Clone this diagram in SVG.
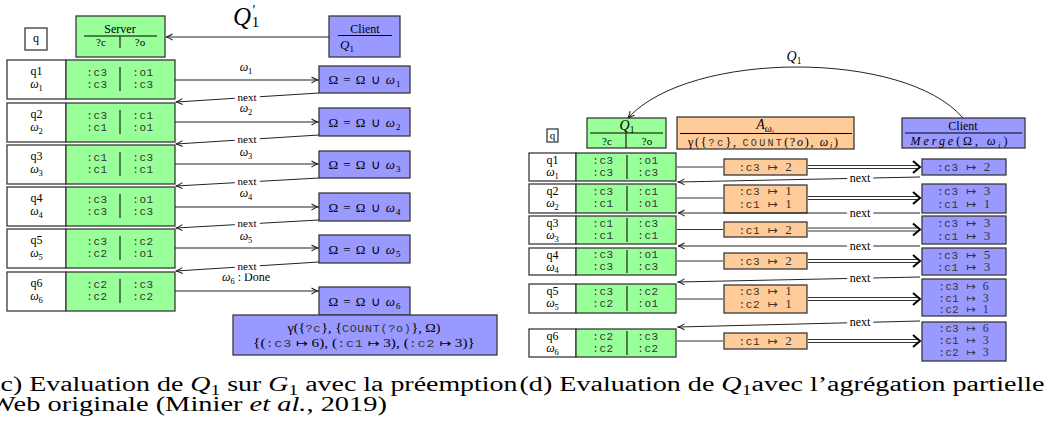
<svg xmlns="http://www.w3.org/2000/svg" width="1048" height="430" viewBox="0 0 1048 430">
<defs>
<style>
.bx{stroke:#3a3a3a;stroke-width:1.3}
.gr{fill:#99ff99}.bl{fill:#9999ff}.or{fill:#ffcc99}.wh{fill:#fff}
.t{font-family:"Liberation Serif",serif;fill:#000}
.m{font-family:"Liberation Mono",monospace;fill:#333;letter-spacing:0.6px}
.ar{font-family:"DejaVu Sans",sans-serif}
.n{font-family:"Liberation Serif",serif}
.f10{font-size:10.5px}.f11{font-size:11px}.f12{font-size:12px}.f13{font-size:13px}
.ln{stroke:#222;stroke-width:1;fill:none}
.dv{stroke:#222;stroke-width:1.2}
.nx{paint-order:stroke;stroke:#fff;stroke-width:7px;stroke-linejoin:round}
.it{font-style:italic}
</style>
<marker id="ah" viewBox="0 0 8 8" refX="7.5" refY="4" markerWidth="8" markerHeight="8" markerUnits="userSpaceOnUse" orient="auto">
<path d="M1 1 Q4.5 3.2 7.5 4 Q4.5 4.8 1 7" fill="none" stroke="#222" stroke-width="1.1"/>
</marker>
</defs>

<!-- LEFT PANEL -->
<g id="q-left"><rect class="bx wh" x="25" y="28" width="22" height="22"/><text class="t f12" x="36" y="41.5" text-anchor="middle">q</text></g>
<g id="server"><rect class="bx gr" x="76" y="16" width="89" height="41"/>
<text class="t f12" x="120" y="33" text-anchor="middle">Server</text>
<line x1="84" y1="36" x2="157" y2="36" stroke="#000" stroke-width="1"/>
<line class="dv" x1="120" y1="36" x2="120" y2="48"/>
<text class="t f11" x="101" y="46" text-anchor="middle">?c</text>
<text class="t f11" x="140" y="46" text-anchor="middle">?o</text></g>
<g id="client-left"><rect class="bx bl" x="329" y="16" width="71" height="41"/>
<text class="t f12" x="365" y="32.5" text-anchor="middle">Client</text>
<line x1="338" y1="35.5" x2="392" y2="35.5" stroke="#000" stroke-width="1"/>
<text class="t f13" x="340" y="49"><tspan class="it">Q</tspan><tspan font-size="9" dy="2.5">1</tspan></text></g>

<g id="row-l1"><rect class="bx wh" x="7" y="60" width="59" height="39"/><rect class="bx gr" x="66" y="60" width="109" height="39"/>
<text class="t f12" x="36.5" y="75" text-anchor="middle">q1</text>
<text class="t f12" x="36.5" y="88" text-anchor="middle"><tspan class="it">ω</tspan><tspan font-size="8.5" dy="2.5">1</tspan></text>
<line class="dv" x1="120" y1="67" x2="120" y2="91"/>
<text class="m f11" x="97" y="76" text-anchor="middle">:c3</text><text class="m f11" x="143" y="76" text-anchor="middle">:o1</text>
<text class="m f11" x="97" y="88" text-anchor="middle">:c3</text><text class="m f11" x="143" y="88" text-anchor="middle">:c3</text></g>

<g id="row-l2"><rect class="bx wh" x="7" y="103" width="59" height="39"/><rect class="bx gr" x="66" y="103" width="109" height="39"/>
<text class="t f12" x="36.5" y="118" text-anchor="middle">q2</text>
<text class="t f12" x="36.5" y="131" text-anchor="middle"><tspan class="it">ω</tspan><tspan font-size="8.5" dy="2.5">2</tspan></text>
<line class="dv" x1="120" y1="110" x2="120" y2="134"/>
<text class="m f11" x="97" y="119" text-anchor="middle">:c3</text><text class="m f11" x="143" y="119" text-anchor="middle">:c1</text>
<text class="m f11" x="97" y="131" text-anchor="middle">:c1</text><text class="m f11" x="143" y="131" text-anchor="middle">:o1</text></g>

<g id="row-l3"><rect class="bx wh" x="7" y="145" width="59" height="39"/><rect class="bx gr" x="66" y="145" width="109" height="39"/>
<text class="t f12" x="36.5" y="160" text-anchor="middle">q3</text>
<text class="t f12" x="36.5" y="173" text-anchor="middle"><tspan class="it">ω</tspan><tspan font-size="8.5" dy="2.5">3</tspan></text>
<line class="dv" x1="120" y1="152" x2="120" y2="176"/>
<text class="m f11" x="97" y="161" text-anchor="middle">:c1</text><text class="m f11" x="143" y="161" text-anchor="middle">:c3</text>
<text class="m f11" x="97" y="173" text-anchor="middle">:c1</text><text class="m f11" x="143" y="173" text-anchor="middle">:c1</text></g>

<g id="row-l4"><rect class="bx wh" x="7" y="187" width="59" height="39"/><rect class="bx gr" x="66" y="187" width="109" height="39"/>
<text class="t f12" x="36.5" y="202" text-anchor="middle">q4</text>
<text class="t f12" x="36.5" y="215" text-anchor="middle"><tspan class="it">ω</tspan><tspan font-size="8.5" dy="2.5">4</tspan></text>
<line class="dv" x1="120" y1="194" x2="120" y2="218"/>
<text class="m f11" x="97" y="203" text-anchor="middle">:c3</text><text class="m f11" x="143" y="203" text-anchor="middle">:o1</text>
<text class="m f11" x="97" y="215" text-anchor="middle">:c3</text><text class="m f11" x="143" y="215" text-anchor="middle">:c3</text></g>

<g id="row-l5"><rect class="bx wh" x="7" y="229" width="59" height="39"/><rect class="bx gr" x="66" y="229" width="109" height="39"/>
<text class="t f12" x="36.5" y="244" text-anchor="middle">q5</text>
<text class="t f12" x="36.5" y="257" text-anchor="middle"><tspan class="it">ω</tspan><tspan font-size="8.5" dy="2.5">5</tspan></text>
<line class="dv" x1="120" y1="236" x2="120" y2="260"/>
<text class="m f11" x="97" y="245" text-anchor="middle">:c3</text><text class="m f11" x="143" y="245" text-anchor="middle">:c2</text>
<text class="m f11" x="97" y="257" text-anchor="middle">:c2</text><text class="m f11" x="143" y="257" text-anchor="middle">:o1</text></g>

<g id="row-l6"><rect class="bx wh" x="7" y="272" width="59" height="39"/><rect class="bx gr" x="66" y="272" width="109" height="39"/>
<text class="t f12" x="36.5" y="287" text-anchor="middle">q6</text>
<text class="t f12" x="36.5" y="300" text-anchor="middle"><tspan class="it">ω</tspan><tspan font-size="8.5" dy="2.5">6</tspan></text>
<line class="dv" x1="120" y1="279" x2="120" y2="303"/>
<text class="m f11" x="97" y="288" text-anchor="middle">:c2</text><text class="m f11" x="143" y="288" text-anchor="middle">:c3</text>
<text class="m f11" x="97" y="300" text-anchor="middle">:c2</text><text class="m f11" x="143" y="300" text-anchor="middle">:c2</text></g>

<g id="omega-1"><rect class="bx bl" x="319" y="66" width="91" height="27"/><text class="t f13" x="364.5" y="84" text-anchor="middle" textLength="72" lengthAdjust="spacing">Ω = Ω ∪ <tspan class="it">ω</tspan><tspan font-size="9" dy="3">1</tspan></text></g>
<g id="omega-2"><rect class="bx bl" x="319" y="108" width="91" height="28"/><text class="t f13" x="364.5" y="126.5" text-anchor="middle" textLength="72" lengthAdjust="spacing">Ω = Ω ∪ <tspan class="it">ω</tspan><tspan font-size="9" dy="3">2</tspan></text></g>
<g id="omega-3"><rect class="bx bl" x="319" y="151" width="91" height="27"/><text class="t f13" x="364.5" y="169" text-anchor="middle" textLength="72" lengthAdjust="spacing">Ω = Ω ∪ <tspan class="it">ω</tspan><tspan font-size="9" dy="3">3</tspan></text></g>
<g id="omega-4"><rect class="bx bl" x="319" y="193" width="91" height="28"/><text class="t f13" x="364.5" y="211.5" text-anchor="middle" textLength="72" lengthAdjust="spacing">Ω = Ω ∪ <tspan class="it">ω</tspan><tspan font-size="9" dy="3">4</tspan></text></g>
<g id="omega-5"><rect class="bx bl" x="319" y="235" width="91" height="28"/><text class="t f13" x="364.5" y="253.5" text-anchor="middle" textLength="72" lengthAdjust="spacing">Ω = Ω ∪ <tspan class="it">ω</tspan><tspan font-size="9" dy="3">5</tspan></text></g>
<g id="omega-6"><rect class="bx bl" x="319" y="287" width="91" height="28"/><text class="t f13" x="364.5" y="305.5" text-anchor="middle" textLength="72" lengthAdjust="spacing">Ω = Ω ∪ <tspan class="it">ω</tspan><tspan font-size="9" dy="3">6</tspan></text></g>

<g id="result-left"><rect class="bx bl" x="233" y="315" width="264" height="40"/>
<text class="t f12" x="364" y="332" text-anchor="middle" textLength="153" lengthAdjust="spacingAndGlyphs">γ({<tspan class="m" font-size="10.5">?c</tspan>}, {<tspan class="m" font-size="10">COUNT(?o)</tspan>}, Ω)</text>
<text class="t f12" x="364" y="347" text-anchor="middle" textLength="222" lengthAdjust="spacingAndGlyphs">{(<tspan class="m" font-size="10.5">:c3</tspan> <tspan class="ar" font-size="11">↦</tspan> 6), (<tspan class="m" font-size="10.5">:c1</tspan> <tspan class="ar" font-size="11">↦</tspan> 3), (<tspan class="m" font-size="10.5">:c2</tspan> <tspan class="ar" font-size="11">↦</tspan> 3)}</text></g>

<g id="connectors-left">
<line class="ln" x1="329" y1="37" x2="166" y2="37" marker-end="url(#ah)"/>
<text class="t" x="233" y="25" font-size="25"><tspan class="it">Q</tspan><tspan font-size="14" dx="1.5" dy="-10">′</tspan><tspan font-size="15" dx="-4" dy="12">1</tspan></text>
<line class="ln" x1="175" y1="80" x2="318" y2="80" marker-end="url(#ah)"/>
<line class="ln" x1="175" y1="122" x2="318" y2="122" marker-end="url(#ah)"/>
<line class="ln" x1="175" y1="164" x2="318" y2="164" marker-end="url(#ah)"/>
<line class="ln" x1="175" y1="207" x2="318" y2="207" marker-end="url(#ah)"/>
<line class="ln" x1="175" y1="248" x2="318" y2="248" marker-end="url(#ah)"/>
<line class="ln" x1="175" y1="291" x2="318" y2="291" marker-end="url(#ah)"/>
<text class="t f12" x="246" y="71" text-anchor="middle"><tspan class="it">ω</tspan><tspan font-size="8.5" dy="2.5">1</tspan></text>
<text class="t f12" x="246" y="112" text-anchor="middle"><tspan class="it">ω</tspan><tspan font-size="8.5" dy="2.5">2</tspan></text>
<text class="t f12" x="246" y="156" text-anchor="middle"><tspan class="it">ω</tspan><tspan font-size="8.5" dy="2.5">3</tspan></text>
<text class="t f12" x="246" y="197" text-anchor="middle"><tspan class="it">ω</tspan><tspan font-size="8.5" dy="2.5">4</tspan></text>
<text class="t f12" x="246" y="240" text-anchor="middle"><tspan class="it">ω</tspan><tspan font-size="8.5" dy="2.5">5</tspan></text>
<text class="t f12" x="246" y="281" text-anchor="middle"><tspan class="it">ω</tspan><tspan font-size="8.5" dy="2.5">6</tspan><tspan dy="-2.5"> : Done</tspan></text>
<line class="ln" x1="319" y1="93" x2="176" y2="102" marker-end="url(#ah)"/>
<line class="ln" x1="319" y1="135" x2="176" y2="144" marker-end="url(#ah)"/>
<line class="ln" x1="319" y1="178" x2="176" y2="186" marker-end="url(#ah)"/>
<line class="ln" x1="319" y1="220" x2="176" y2="228" marker-end="url(#ah)"/>
<line class="ln" x1="319" y1="262" x2="176" y2="271" marker-end="url(#ah)"/>
<text class="t f11 nx" x="247" y="100.5" text-anchor="middle">next</text>
<text class="t f11 nx" x="247" y="142.5" text-anchor="middle">next</text>
<text class="t f11 nx" x="247" y="185" text-anchor="middle">next</text>
<text class="t f11 nx" x="247" y="227" text-anchor="middle">next</text>
<text class="t f11 nx" x="247" y="269.5" text-anchor="middle">next</text>
</g>

<!-- RIGHT PANEL -->
<g id="q-right"><rect class="bx wh" x="547" y="129" width="11" height="13" stroke-width="1"/><text class="t f11" x="552.5" y="138.5" text-anchor="middle">q</text></g>
<g id="q1-head"><rect class="bx gr" x="587" y="118" width="79" height="30"/>
<text class="t" font-size="14" x="627" y="130" text-anchor="middle"><tspan class="it">Q</tspan><tspan font-size="9.5" dy="2.5">1</tspan></text>
<line x1="590" y1="133" x2="663" y2="133" stroke="#000" stroke-width="1"/>
<line class="dv" x1="626" y1="133" x2="626" y2="148"/>
<text class="t f11" x="607" y="144.5" text-anchor="middle">?c</text>
<text class="t f11" x="647" y="144.5" text-anchor="middle">?o</text></g>
<g id="a-head"><rect class="bx or" x="677" y="117" width="177" height="32"/>
<text class="t" font-size="14" x="765" y="129" text-anchor="middle"><tspan class="it">A</tspan><tspan class="it" font-size="10" dy="3">ω</tspan><tspan class="it" font-size="7" dy="2">i</tspan></text>
<line x1="680" y1="133.5" x2="852" y2="133.5" stroke="#000" stroke-width="1"/>
<text class="t f12" x="763" y="145.5" text-anchor="middle" textLength="150" lengthAdjust="spacing">γ({<tspan class="m" font-size="10.5">?c</tspan>}, <tspan class="m" font-size="10">COUNT</tspan>(?<tspan class="it">o</tspan>), <tspan class="it">ω</tspan><tspan class="it" font-size="8" dy="2.5">i</tspan><tspan dy="-2.5">)</tspan></text></g>
<g id="client-right"><rect class="bx bl" x="902" y="118" width="123" height="30"/>
<text class="t f12" x="963" y="129.5" text-anchor="middle">Client</text>
<line x1="905" y1="133" x2="1022" y2="133" stroke="#000" stroke-width="1"/>
<text class="t f12" x="959" y="145" text-anchor="middle" textLength="97" lengthAdjust="spacing"><tspan class="it">Merge</tspan>(Ω, <tspan class="it">ω</tspan><tspan class="it" font-size="8" dy="2.5">i</tspan><tspan dy="-2.5">)</tspan></text></g>

<g id="row-r1"><rect class="bx wh" x="529" y="153" width="47" height="28"/><rect class="bx gr" x="576" y="153" width="100" height="28"/>
<text class="t f12" x="552.5" y="164" text-anchor="middle">q1</text>
<text class="t f12" x="552.5" y="176" text-anchor="middle"><tspan class="it">ω</tspan><tspan font-size="8.5" dy="2.5">1</tspan></text>
<line class="dv" x1="627" y1="155" x2="627" y2="179"/>
<text class="m f11" x="603" y="163.5" text-anchor="middle">:c3</text><text class="m f11" x="648" y="163.5" text-anchor="middle">:o1</text>
<text class="m f11" x="603" y="175.5" text-anchor="middle">:c3</text><text class="m f11" x="648" y="175.5" text-anchor="middle">:c3</text></g>
<g id="row-r2"><rect class="bx wh" x="529" y="184" width="47" height="29"/><rect class="bx gr" x="576" y="184" width="100" height="29"/>
<text class="t f12" x="552.5" y="195" text-anchor="middle">q2</text>
<text class="t f12" x="552.5" y="207" text-anchor="middle"><tspan class="it">ω</tspan><tspan font-size="8.5" dy="2.5">2</tspan></text>
<line class="dv" x1="627" y1="186" x2="627" y2="211"/>
<text class="m f11" x="603" y="194.5" text-anchor="middle">:c3</text><text class="m f11" x="648" y="194.5" text-anchor="middle">:c1</text>
<text class="m f11" x="603" y="206.5" text-anchor="middle">:c1</text><text class="m f11" x="648" y="206.5" text-anchor="middle">:o1</text></g>
<g id="row-r3"><rect class="bx wh" x="529" y="216" width="47" height="28"/><rect class="bx gr" x="576" y="216" width="100" height="28"/>
<text class="t f12" x="552.5" y="227" text-anchor="middle">q3</text>
<text class="t f12" x="552.5" y="239" text-anchor="middle"><tspan class="it">ω</tspan><tspan font-size="8.5" dy="2.5">3</tspan></text>
<line class="dv" x1="627" y1="218" x2="627" y2="242"/>
<text class="m f11" x="603" y="226.5" text-anchor="middle">:c1</text><text class="m f11" x="648" y="226.5" text-anchor="middle">:c3</text>
<text class="m f11" x="603" y="238.5" text-anchor="middle">:c1</text><text class="m f11" x="648" y="238.5" text-anchor="middle">:c1</text></g>
<g id="row-r4"><rect class="bx wh" x="529" y="248" width="47" height="27"/><rect class="bx gr" x="576" y="248" width="100" height="27"/>
<text class="t f12" x="552.5" y="258.5" text-anchor="middle">q4</text>
<text class="t f12" x="552.5" y="270.5" text-anchor="middle"><tspan class="it">ω</tspan><tspan font-size="8.5" dy="2.5">4</tspan></text>
<line class="dv" x1="627" y1="250" x2="627" y2="273"/>
<text class="m f11" x="603" y="258" text-anchor="middle">:c3</text><text class="m f11" x="648" y="258" text-anchor="middle">:o1</text>
<text class="m f11" x="603" y="270" text-anchor="middle">:c3</text><text class="m f11" x="648" y="270" text-anchor="middle">:c3</text></g>
<g id="row-r5"><rect class="bx wh" x="529" y="284" width="47" height="29"/><rect class="bx gr" x="576" y="284" width="100" height="29"/>
<text class="t f12" x="552.5" y="295" text-anchor="middle">q5</text>
<text class="t f12" x="552.5" y="307" text-anchor="middle"><tspan class="it">ω</tspan><tspan font-size="8.5" dy="2.5">5</tspan></text>
<line class="dv" x1="627" y1="286" x2="627" y2="311"/>
<text class="m f11" x="603" y="294.5" text-anchor="middle">:c3</text><text class="m f11" x="648" y="294.5" text-anchor="middle">:c2</text>
<text class="m f11" x="603" y="306.5" text-anchor="middle">:c2</text><text class="m f11" x="648" y="306.5" text-anchor="middle">:o1</text></g>
<g id="row-r6"><rect class="bx wh" x="529" y="329" width="47" height="28"/><rect class="bx gr" x="576" y="329" width="100" height="28"/>
<text class="t f12" x="552.5" y="340" text-anchor="middle">q6</text>
<text class="t f12" x="552.5" y="352" text-anchor="middle"><tspan class="it">ω</tspan><tspan font-size="8.5" dy="2.5">6</tspan></text>
<line class="dv" x1="627" y1="331" x2="627" y2="355"/>
<text class="m f11" x="603" y="339.5" text-anchor="middle">:c2</text><text class="m f11" x="648" y="339.5" text-anchor="middle">:c3</text>
<text class="m f11" x="603" y="351.5" text-anchor="middle">:c2</text><text class="m f11" x="648" y="351.5" text-anchor="middle">:c2</text></g>

<g id="agg-1"><rect class="bx or" x="724" y="159" width="83" height="16"/>
<text class="m f11" x="765.5" y="171" text-anchor="middle">:c3 <tspan class="ar" font-size="12">↦</tspan> <tspan class="n" font-size="13">2</tspan></text></g>
<g id="agg-2"><rect class="bx or" x="724" y="185" width="83" height="28"/>
<text class="m f11" x="765.5" y="195" text-anchor="middle">:c3 <tspan class="ar" font-size="12">↦</tspan> <tspan class="n" font-size="13">1</tspan></text>
<text class="m f11" x="765.5" y="207.5" text-anchor="middle">:c1 <tspan class="ar" font-size="12">↦</tspan> <tspan class="n" font-size="13">1</tspan></text></g>
<g id="agg-3"><rect class="bx or" x="724" y="222" width="83" height="15"/>
<text class="m f11" x="765.5" y="233.5" text-anchor="middle">:c1 <tspan class="ar" font-size="12">↦</tspan> <tspan class="n" font-size="13">2</tspan></text></g>
<g id="agg-4"><rect class="bx or" x="724" y="253" width="83" height="16"/>
<text class="m f11" x="765.5" y="265" text-anchor="middle">:c3 <tspan class="ar" font-size="12">↦</tspan> <tspan class="n" font-size="13">2</tspan></text></g>
<g id="agg-5"><rect class="bx or" x="724" y="285" width="83" height="28"/>
<text class="m f11" x="765.5" y="295" text-anchor="middle">:c3 <tspan class="ar" font-size="12">↦</tspan> <tspan class="n" font-size="13">1</tspan></text>
<text class="m f11" x="765.5" y="307.5" text-anchor="middle">:c2 <tspan class="ar" font-size="12">↦</tspan> <tspan class="n" font-size="13">1</tspan></text></g>
<g id="agg-6"><rect class="bx or" x="724" y="333" width="83" height="16"/>
<text class="m f11" x="765.5" y="345" text-anchor="middle">:c1 <tspan class="ar" font-size="12">↦</tspan> <tspan class="n" font-size="13">2</tspan></text></g>

<g id="merge-1"><rect class="bx bl" x="922" y="159" width="84" height="16"/>
<text class="m f11" x="964" y="171" text-anchor="middle">:c3 <tspan class="ar" font-size="12">↦</tspan> <tspan class="n" font-size="13">2</tspan></text></g>
<g id="merge-2"><rect class="bx bl" x="922" y="184" width="84" height="29"/>
<text class="m f11" x="964" y="195" text-anchor="middle">:c3 <tspan class="ar" font-size="12">↦</tspan> <tspan class="n" font-size="13">3</tspan></text>
<text class="m f11" x="964" y="207.5" text-anchor="middle">:c1 <tspan class="ar" font-size="12">↦</tspan> <tspan class="n" font-size="13">1</tspan></text></g>
<g id="merge-3"><rect class="bx bl" x="922" y="216" width="84" height="28"/>
<text class="m f11" x="964" y="227" text-anchor="middle">:c3 <tspan class="ar" font-size="12">↦</tspan> <tspan class="n" font-size="13">3</tspan></text>
<text class="m f11" x="964" y="239.5" text-anchor="middle">:c1 <tspan class="ar" font-size="12">↦</tspan> <tspan class="n" font-size="13">3</tspan></text></g>
<g id="merge-4"><rect class="bx bl" x="922" y="248" width="84" height="27"/>
<text class="m f11" x="964" y="259" text-anchor="middle">:c3 <tspan class="ar" font-size="12">↦</tspan> <tspan class="n" font-size="13">5</tspan></text>
<text class="m f11" x="964" y="271" text-anchor="middle">:c1 <tspan class="ar" font-size="12">↦</tspan> <tspan class="n" font-size="13">3</tspan></text></g>
<g id="merge-5"><rect class="bx bl" x="922" y="279" width="84" height="37"/>
<text class="m f10" x="964" y="290" text-anchor="middle">:c3 <tspan class="ar" font-size="11">↦</tspan> <tspan class="n" font-size="12">6</tspan></text>
<text class="m f10" x="964" y="301.5" text-anchor="middle">:c1 <tspan class="ar" font-size="11">↦</tspan> <tspan class="n" font-size="12">3</tspan></text>
<text class="m f10" x="964" y="313" text-anchor="middle">:c2 <tspan class="ar" font-size="11">↦</tspan> <tspan class="n" font-size="12">1</tspan></text></g>
<g id="merge-6"><rect class="bx bl" x="922" y="322" width="84" height="39"/>
<text class="m f10" x="964" y="332" text-anchor="middle">:c3 <tspan class="ar" font-size="11">↦</tspan> <tspan class="n" font-size="12">6</tspan></text>
<text class="m f10" x="964" y="344" text-anchor="middle">:c1 <tspan class="ar" font-size="11">↦</tspan> <tspan class="n" font-size="12">3</tspan></text>
<text class="m f10" x="964" y="356" text-anchor="middle">:c2 <tspan class="ar" font-size="11">↦</tspan> <tspan class="n" font-size="12">3</tspan></text></g>

<g id="connectors-right">
<path class="ln" d="M963 118 C 905 50, 690 50, 628 118" marker-end="url(#ah)"/>
<text class="t" font-size="14" x="794" y="61" text-anchor="middle"><tspan class="it">Q</tspan><tspan font-size="9.5" dy="2.5">1</tspan></text>
<g stroke="#333" stroke-width="1" fill="none">
<line x1="677" y1="167" x2="723" y2="167"/>
<line x1="677" y1="198" x2="723" y2="198"/>
<line x1="677" y1="229.5" x2="723" y2="229.5"/>
<line x1="677" y1="261" x2="723" y2="261"/>
<line x1="677" y1="299" x2="723" y2="299"/>
<line x1="677" y1="341" x2="723" y2="341"/>
<path d="M808 165.5 H917 M808 168.5 H917"/>
<path d="M808 196.5 H917 M808 199.5 H917"/>
<path d="M808 228 H917 M808 231 H917"/>
<path d="M808 259.5 H917 M808 262.5 H917"/>
<path d="M808 297.5 H917 M808 300.5 H917"/>
<path d="M808 339.5 H917 M808 342.5 H917"/>
</g>
<g stroke="#000" stroke-width="2" fill="none">
<path d="M913 161 L920 167 L913 173"/><path d="M913 192 L920 198 L913 204"/><path d="M913 223.5 L920 229.5 L913 235.5"/>
<path d="M913 255 L920 261 L913 267"/><path d="M913 293 L920 299 L913 305"/><path d="M913 335 L920 341 L913 347"/>
</g>
<line class="ln" x1="920" y1="177" x2="678" y2="182" marker-end="url(#ah)"/>
<line class="ln" x1="920" y1="213" x2="678" y2="213" marker-end="url(#ah)"/>
<line class="ln" x1="920" y1="246" x2="678" y2="246" marker-end="url(#ah)"/>
<line class="ln" x1="920" y1="277" x2="678" y2="282" marker-end="url(#ah)"/>
<line class="ln" x1="920" y1="321" x2="678" y2="327" marker-end="url(#ah)"/>
<text class="t f12 nx" x="860" y="181.5" text-anchor="middle">next</text>
<text class="t f12 nx" x="860" y="216.5" text-anchor="middle">next</text>
<text class="t f12 nx" x="860" y="249.5" text-anchor="middle">next</text>
<text class="t f12 nx" x="860" y="281.5" text-anchor="middle">next</text>
<text class="t f12 nx" x="860" y="325.5" text-anchor="middle">next</text>
</g>

<g id="captions">
<text class="t" font-size="20" x="0.5" y="391" textLength="517" lengthAdjust="spacingAndGlyphs">c) Evaluation de <tspan class="it">Q</tspan><tspan font-size="14" dy="4">1</tspan><tspan dy="-4"> sur </tspan><tspan class="it">G</tspan><tspan font-size="14" dy="4">1</tspan><tspan dy="-4"> avec la préemption</tspan></text>
<text class="t" font-size="20" x="519.5" y="391" textLength="525" lengthAdjust="spacingAndGlyphs">(d) Evaluation de <tspan class="it">Q</tspan><tspan font-size="14" dy="4">1</tspan><tspan dy="-4">avec l’agrégation partielle</tspan></text>
<text class="t" font-size="20" x="-11" y="411" textLength="398" lengthAdjust="spacingAndGlyphs">Web originale (Minier <tspan class="it">et al.</tspan>, 2019)</text>
</g>
</svg>
